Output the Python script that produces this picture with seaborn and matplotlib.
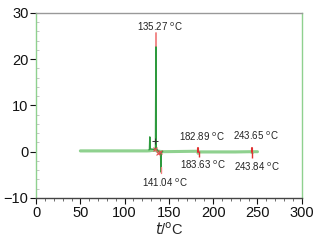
import matplotlib
matplotlib.use('Agg')
import matplotlib.pyplot as plt
import seaborn as sns
import pandas as pd
from matplotlib.ticker import MultipleLocator

# baseline loop (light green, heating + cooling)
base_x = [50, 125, 128, 130, 134, 137, 140, 142, 182, 183, 184, 225, 243, 244, 245, 250,
          245, 243, 225, 184, 183, 142, 140, 137, 134, 130, 128, 125, 50]
base_y = [0.35, 0.35, 0.4, 0.4, 0.5, 0.4, 0.3, 0.2, 0.1, -0.3, 0.1, 0.1, 0.1, -0.2, 0.1, 0.0,
          -0.1, -0.1, -0.2, -0.2, -0.4, -0.2, -0.2, -0.1, 0.1, 0.1, 0.0, 0.0, 0.0]

# sharp peaks (dark green)
peak_x = [127.5, 128.0, 128.4, 128.8, 133.0, 134.8, 135.27, 135.7, 137.0, 140.5, 141.04, 141.5, 143.0]
peak_y = [0.4, 0.5, 3.2, 0.6, 0.5, 0.8, 22.8, 0.8, 0.3, -0.2, -4.4, -0.2, 0.1]

# marked points (red)
mark_x = [135.27, 135.27, 141.04, 141.04, 182.89, 182.89, 183.63, 243.65, 243.65, 243.84, 134.0, 138.0, 140.0]
mark_y = [25.6, 22.8, -4.6, -3.4, 0.7, 0.0, -0.6, 0.9, 0.0, -0.7, 0.5, -0.2, -0.1]

labels = ['135.27 $^\\mathrm{o}$C', '141.04 $^\\mathrm{o}$C', '182.89 $^\\mathrm{o}$C',
          '183.63 $^\\mathrm{o}$C', '243.65 $^\\mathrm{o}$C', '243.84 $^\\mathrm{o}$C']
label_x = [140, 146, 187, 188, 248, 249]
label_y = [27.1, -6.7, 3.3, -2.8, 3.5, -3.2]

sns.set_theme(style="white")
plt.rcParams['font.family'] = ['Liberation Sans', 'DejaVu Sans']

fig, ax = plt.subplots(figsize=(3.28, 2.49), dpi=100)
fig.subplots_adjust(left=0.11, right=0.92, top=0.948, bottom=0.205)

base = pd.DataFrame({'x': base_x, 'y': base_y})
peak = pd.DataFrame({'x': peak_x, 'y': peak_y})
sns.lineplot(data=base, x='x', y='y', sort=False, color='#8fd18f', lw=2.2, ax=ax)
sns.lineplot(data=peak, x='x', y='y', sort=False, color='#2e9a3e', lw=1.0, ax=ax)

# red tips on the peaks and small red ticks at marked points
ax.plot(mark_x[0:2], mark_y[0:2], color='#f08080', lw=1.3)
ax.plot(mark_x[2:4], mark_y[2:4], color='#f08080', lw=1.0)
ax.plot(mark_x[4:6], mark_y[4:6], color='#e03030', lw=1.5)
ax.plot([mark_x[6]], [mark_y[6]], marker='|', color='#e03030', ms=5)
ax.plot(mark_x[7:9], mark_y[7:9], color='#e03030', lw=1.5)
ax.plot([mark_x[9]], [mark_y[9]], marker='|', color='#e03030', ms=5)
ax.scatter(mark_x[10:], mark_y[10:], marker='x', color='#e05050', s=8, lw=0.8, zorder=5)
ax.scatter([134.5], [2.4], marker='+', color='#333333', s=25, lw=0.7, zorder=5)

for t, lx, ly in zip(labels, label_x, label_y):
    ax.text(lx, ly, t, ha='center', va='center', fontsize=7, color='#222222')

ax.set_xlim(0, 300)
ax.set_ylim(-10, 30)
ax.xaxis.set_major_locator(MultipleLocator(50))
ax.xaxis.set_minor_locator(MultipleLocator(10))
ax.yaxis.set_major_locator(MultipleLocator(10))
ax.yaxis.set_minor_locator(MultipleLocator(2))
ax.tick_params(axis='both', which='major', direction='out', length=4, width=0.8,
               labelsize=10.5, colors='#111111', bottom=True, left=True, pad=1.5)
ax.tick_params(axis='x', which='minor', direction='out', length=2, width=0.6, bottom=True, color='#555555')
ax.tick_params(axis='y', which='minor', direction='in', length=2, width=0.6, left=True, color='#bbbbbb')
ax.set_xlabel('$t$/$^\\mathrm{o}$C', fontsize=10.5, labelpad=1)
ax.set_ylabel('')

for side in ax.spines.values():
    side.set_visible(True)
    side.set_linewidth(1.0)
ax.spines['left'].set_color('#8fd18f')
ax.spines['right'].set_color('#8fd18f')
ax.spines['top'].set_color('#999999')
ax.spines['bottom'].set_color('#444444')

plt.savefig('out.png', dpi=100)
